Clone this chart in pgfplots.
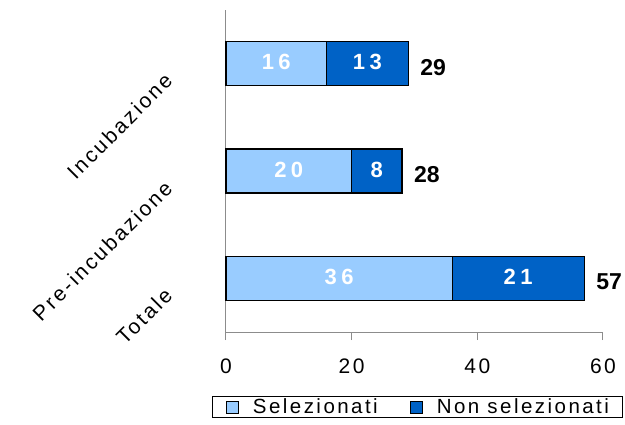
\documentclass[border=0pt]{standalone}
\usepackage{pgfplots}
\usepackage{pgfplotstable}
\pgfplotsset{compat=1.18}
\usepackage{fontspec}
\setmainfont{Liberation Sans}
\newfontfamily\ls[LetterSpace=12]{Liberation Sans}
\newfontfamily\lsb[LetterSpace=20]{Liberation Sans}
\definecolor{lightb}{HTML}{99CCFF}
\definecolor{darkb}{HTML}{0062C6}
\pgfplotstableread{
y sel non tot
0 36 21 57
1 20 8 28
2 16 13 29
}\data
\begin{document}
\begin{tikzpicture}
\begin{axis}[
  xbar stacked,
  x=6.283pt, y=107.3pt,
  xmin=0, xmax=60, ymin=-0.5, ymax=2.5,
  bar width=0.41,
  axis lines*=left,
  axis line style={draw=gray!90, line width=1pt},
  xtick={0,20,40,60},
  xticklabels={0,20,40,60},
  xtick style={draw=gray!90, line width=1pt},
  tick align=outside,
  major tick length=8pt,
  ytick={0,1,2},
  yticklabels={Totale,Pre-incubazione,Incubazione},
  ytick style={draw=none},
  xticklabel style={font=\ls\fontsize{21}{24}\selectfont, yshift=-15pt},
  yticklabel style={font=\ls\fontsize{21}{24}\selectfont, xshift=-55pt, yshift=-3pt, rotate=45, anchor=north east},
  clip=false,
  legend style={at={(-0.037,-0.199)}, anchor=north west, legend columns=2,
    draw=black, line width=0.8pt, font=\ls\fontsize{20.5}{23}\selectfont,
    inner xsep=13.5pt, inner ysep=0.5pt,
    nodes={inner xsep=0pt},
    /tikz/every odd column/.append style={column sep=14pt},
    /tikz/every even column/.append style={column sep=32pt}},
  legend image code/.code={\draw[#1, line width=1pt, draw=black] (0pt,-6pt) rectangle (12pt,6pt);},
  nodes near coords={\pgfmathprintnumber[assume math mode=true]{\pgfplotspointmeta}},
  every node near coord/.append style={anchor=center, font=\lsb\bfseries\fontsize{22}{24}\selectfont, text=white, yshift=1.5pt},
]
\addplot[fill=lightb, draw=black, line width=1.2pt]
  table[x=sel, y=y] {\data};
\addlegendentry{Selezionati}
\addplot[fill=darkb, draw=black, line width=1.2pt]
  table[x=non, y=y] {\data};
\addlegendentry{Non selezionati}
\end{axis}
\begin{axis}[
  x=6.283pt, y=107.3pt,
  xmin=0, xmax=60, ymin=-0.5, ymax=2.5,
  hide axis, clip=false,
]
\addplot[only marks, mark=none, point meta=explicit,
  nodes near coords={\pgfmathprintnumber[assume math mode=true]{\pgfplotspointmeta}},
  every node near coord/.append style={anchor=west, xshift=12pt, yshift=-3.5pt, text=black, inner sep=0pt, font=\bfseries\fontsize{23}{26}\selectfont}]
  table[x=tot, y=y, meta=tot] {\data};
\end{axis}
\path (current axis.south west) ++(-226pt,-92pt) rectangle ++(625pt,424pt);
\end{tikzpicture}
\end{document}
